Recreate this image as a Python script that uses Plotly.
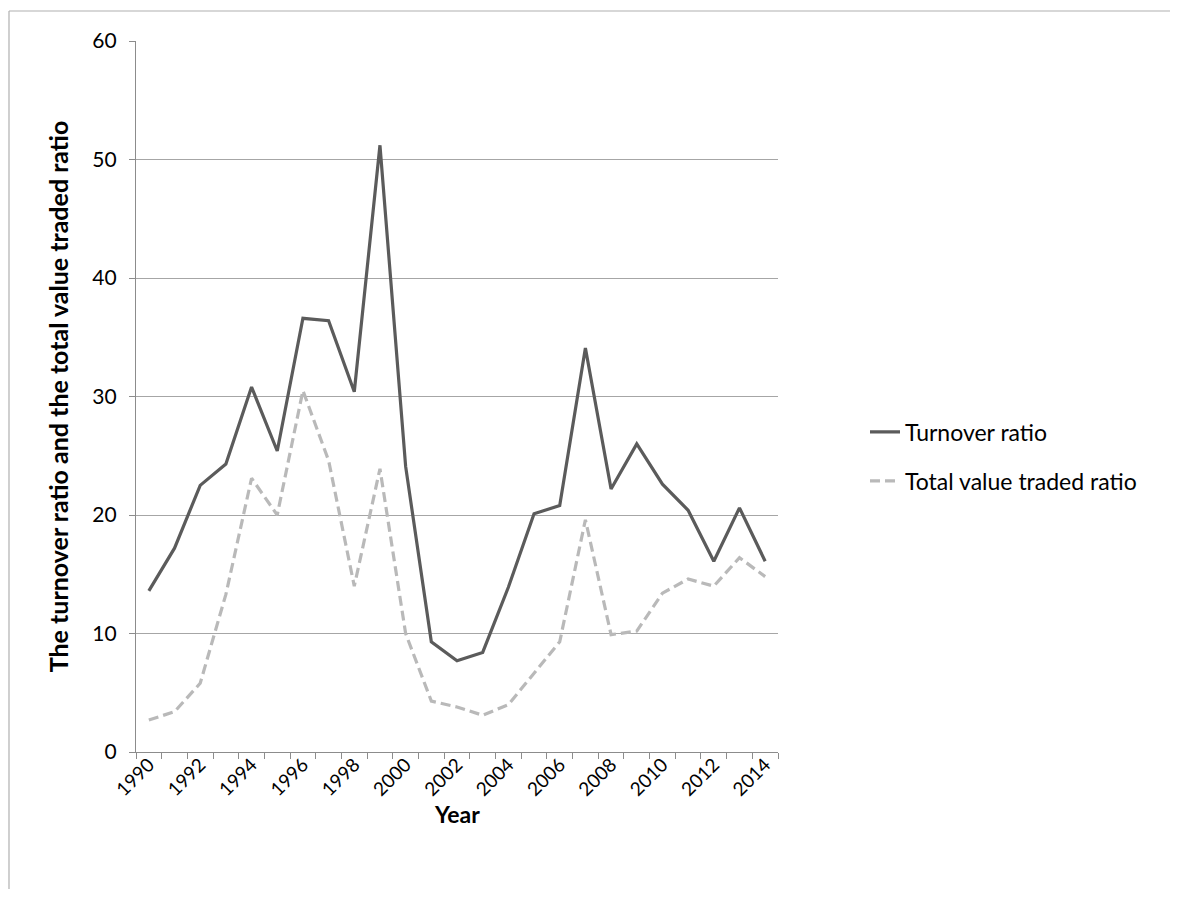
import plotly.graph_objects as go

years = list(range(1990, 2015))
turnover_ratio = [13.6, 17.2, 22.5, 24.3, 30.8, 25.4, 36.6, 36.4, 30.4, 51.2,
                  24.1, 9.3, 7.7, 8.4, 13.9, 20.1, 20.8, 34.1, 22.2, 26.0,
                  22.6, 20.4, 16.1, 20.6, 16.1]
total_value_traded_ratio = [2.7, 3.4, 5.8, 13.3, 23.1, 20.0, 30.5, 24.6, 14.0, 23.9,
                            10.0, 4.3, 3.8, 3.1, 4.0, 6.7, 9.3, 19.6, 9.9, 10.2,
                            13.4, 14.6, 14.0, 16.4, 14.8]
series_names = ["Turnover ratio", "Total value traded ratio"]
x_tick_labels = [str(y) for y in range(1990, 2015, 2)]
y_title = "The turnover ratio and the total value traded ratio"
x_title = "Year"

FONT = "Lato"
FS = 23
TFS = 21
XFS = 19

fig = go.Figure()
fig.add_trace(go.Scatter(
    x=years, y=turnover_ratio, name=series_names[0], mode="lines",
    line=dict(color="#5b5b5b", width=3.2), legendgroup="a"))
fig.add_trace(go.Scatter(
    x=years, y=total_value_traded_ratio, name=series_names[1], mode="lines",
    line=dict(color="#b9b9b9", width=3.2, dash="10px,5px"), legendgroup="b"))

# the page body adds an 8px offset, so figure coords = page coords - 8
W, H = 1162, 881
L, R, T, B = 128, 392, 33, 137
pw = W - L - R
ph = H - T - B

fig.update_layout(
    width=W, height=H,
    margin=dict(l=L, r=R, t=T, b=B, autoexpand=False),
    paper_bgcolor="white", plot_bgcolor="white",
    font=dict(family=FONT, size=FS, color="#000000"),
    showlegend=True,
    legend=dict(x=(857 - L) / pw, xanchor="left",
                y=(H - B - 448.5) / ph, yanchor="middle",
                font=dict(family=FONT, size=FS, color="#000000"),
                tracegroupgap=16, bgcolor="rgba(0,0,0,0)"),
    xaxis=dict(
        range=[1989.5, 2014.5], tickmode="array",
        tickvals=[int(t) for t in x_tick_labels], ticktext=x_tick_labels,
        tickangle=-45, ticks="", showgrid=False, zeroline=False,
        showline=True, linecolor="#8c8c8c", linewidth=1.3,
        tickfont=dict(family=FONT, size=XFS, color="#000000"),
        ticklabelstandoff=-7,
        minor=dict(tickmode="linear", tick0=1989.5, dtick=1, ticks="outside",
                   ticklen=6, tickcolor="#8c8c8c", tickwidth=1.3, showgrid=False),
        fixedrange=True),
    yaxis=dict(
        range=[0, 60], dtick=10, tick0=0,
        ticks="outside", ticklen=6, tickcolor="#8c8c8c", tickwidth=1.3,
        showgrid=True, gridcolor="#a6a6a6", gridwidth=1.3, zeroline=False,
        showline=True, linecolor="#8c8c8c", linewidth=1.3,
        tickfont=dict(family=FONT, size=TFS, color="#000000"),
        ticklabelstandoff=8,
        title=dict(text="<b>" + y_title + "</b>", standoff=16,
                   font=dict(family=FONT, size=25, color="#000000")),
        fixedrange=True),
    annotations=[
        dict(text="<b>" + x_title + "</b>", xref="paper", yref="paper",
             x=0.5, y=(H - B - 806) / ph, xanchor="center", yanchor="middle",
             showarrow=False, font=dict(family=FONT, size=FS, color="#000000")),
    ],
    shapes=[
        dict(type="line", xref="paper", yref="paper",
             x0=(1 - L) / pw, x1=(W + 5 - L) / pw,
             y0=(H - B - 3) / ph, y1=(H - B - 3) / ph,
             line=dict(color="#b0b0b0", width=1.2)),
        dict(type="line", xref="paper", yref="paper",
             x0=(1 - L) / pw, x1=(1 - L) / pw,
             y0=(H - B - 3) / ph, y1=-(B + 5) / ph,
             line=dict(color="#b0b0b0", width=1.2)),
    ],
)

fig.write_html("out.html")
